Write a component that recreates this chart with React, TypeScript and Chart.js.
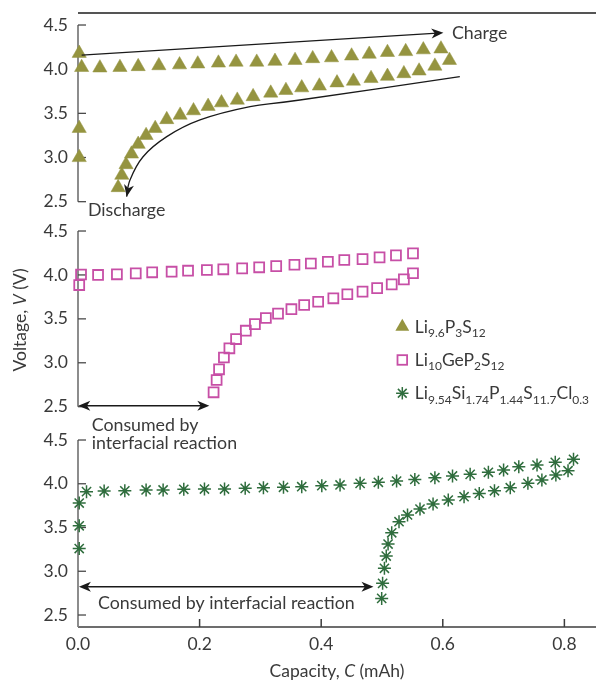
import { useEffect, useRef } from 'react';
import { Chart, registerables } from 'chart.js';

Chart.register(...registerables);

const FONT = 'Lato';
const TEXT = '#3a3a3a';

// ---- Data: capacity C (mAh) and voltage V (V) ----
// Li9.6P3S12 (top panel)
const lpsChargeC = [0.002, 0.002, 0.002, 0.006, 0.036, 0.069, 0.099, 0.133, 0.167, 0.197, 0.231, 0.260, 0.294, 0.324, 0.357, 0.386, 0.417, 0.450, 0.479, 0.509, 0.539, 0.568, 0.597];
const lpsChargeV = [3.00, 3.33, 4.18, 4.02, 4.015, 4.02, 4.03, 4.04, 4.05, 4.06, 4.07, 4.08, 4.08, 4.09, 4.10, 4.12, 4.13, 4.15, 4.17, 4.19, 4.20, 4.22, 4.23];
const lpsDischargeC = [0.611, 0.587, 0.561, 0.536, 0.509, 0.482, 0.453, 0.426, 0.397, 0.368, 0.342, 0.317, 0.288, 0.262, 0.236, 0.214, 0.190, 0.168, 0.146, 0.127, 0.112, 0.099, 0.088, 0.079, 0.072, 0.066];
const lpsDischargeV = [4.10, 4.035, 3.98, 3.95, 3.92, 3.895, 3.865, 3.846, 3.81, 3.79, 3.76, 3.73, 3.69, 3.65, 3.62, 3.58, 3.53, 3.48, 3.43, 3.33, 3.25, 3.15, 3.04, 2.92, 2.80, 2.66];

// Li10GeP2S12 (middle panel)
const lgpsChargeC = [0.002, 0.005, 0.033, 0.064, 0.095, 0.122, 0.154, 0.181, 0.212, 0.239, 0.270, 0.298, 0.326, 0.356, 0.383, 0.411, 0.438, 0.468, 0.496, 0.523, 0.551];
const lgpsChargeV = [3.885, 4.005, 4.0, 4.007, 4.018, 4.03, 4.037, 4.048, 4.056, 4.064, 4.075, 4.087, 4.10, 4.116, 4.13, 4.15, 4.17, 4.18, 4.20, 4.223, 4.246];
const lgpsDischargeC = [0.551, 0.536, 0.516, 0.492, 0.468, 0.443, 0.420, 0.395, 0.372, 0.351, 0.329, 0.309, 0.291, 0.276, 0.260, 0.249, 0.240, 0.232, 0.228, 0.223];
const lgpsDischargeV = [4.019, 3.95, 3.893, 3.85, 3.81, 3.78, 3.734, 3.695, 3.658, 3.61, 3.56, 3.51, 3.44, 3.365, 3.27, 3.165, 3.06, 2.926, 2.804, 2.664];

// Li9.54Si1.74P1.44S11.7Cl0.3 (bottom panel)
const lspsChargeC = [0.002, 0.002, 0.002, 0.014, 0.043, 0.077, 0.112, 0.140, 0.174, 0.208, 0.241, 0.275, 0.305, 0.338, 0.368, 0.401, 0.431, 0.464, 0.494, 0.524, 0.554, 0.587, 0.616, 0.645, 0.675, 0.700, 0.725, 0.755, 0.785, 0.815];
const lspsChargeV = [3.26, 3.52, 3.78, 3.91, 3.917, 3.92, 3.929, 3.929, 3.937, 3.94, 3.94, 3.948, 3.955, 3.96, 3.966, 3.978, 3.986, 4.005, 4.017, 4.031, 4.05, 4.069, 4.089, 4.108, 4.131, 4.157, 4.195, 4.214, 4.245, 4.28];
const lspsDischargeC = [0.806, 0.786, 0.763, 0.740, 0.711, 0.685, 0.660, 0.635, 0.609, 0.584, 0.5625, 0.542, 0.528, 0.516, 0.510, 0.507, 0.504, 0.501, 0.4995];
const lspsDischargeV = [4.149, 4.10, 4.043, 4.005, 3.955, 3.92, 3.89, 3.852, 3.814, 3.769, 3.711, 3.643, 3.566, 3.44, 3.311, 3.174, 3.034, 2.862, 2.69];

const xTicks = [0, 0.2, 0.4, 0.6, 0.8];
const yTicks = [2.5, 3.0, 3.5, 4.0, 4.5];

// legend labels: [text, isSubscript]
const nameLPS: [string, boolean][] = [['Li', false], ['9.6', true], ['P', false], ['3', true], ['S', false], ['12', true]];
const nameLGPS: [string, boolean][] = [['Li', false], ['10', true], ['GeP', false], ['2', true], ['S', false], ['12', true]];
const nameLSPS: [string, boolean][] = [['Li', false], ['9.54', true], ['Si', false], ['1.74', true], ['P', false], ['1.44', true], ['S', false], ['11.7', true], ['Cl', false], ['0.3', true]];

const COL_LPS = '#959440';
const COL_LGPS = '#c74fa6';
const COL_LSPS = '#2f6d3d';

const pts = (c: number[], v: number[]) => c.map((x, i) => ({ x, y: v[i] }));

function line(ctx: CanvasRenderingContext2D, x1: number, y1: number, x2: number, y2: number) {
  ctx.beginPath();
  ctx.moveTo(x1, y1);
  ctx.lineTo(x2, y2);
  ctx.stroke();
}

function arrowHead(ctx: CanvasRenderingContext2D, tx: number, ty: number, ang: number, len = 12, hw = 5) {
  const bx = tx - Math.cos(ang) * len;
  const by = ty - Math.sin(ang) * len;
  const nx = -Math.sin(ang) * hw;
  const ny = Math.cos(ang) * hw;
  const mx = tx - Math.cos(ang) * len * 0.72;
  const my = ty - Math.sin(ang) * len * 0.72;
  ctx.beginPath();
  ctx.moveTo(tx, ty);
  ctx.lineTo(bx + nx, by + ny);
  ctx.lineTo(mx, my);
  ctx.lineTo(bx - nx, by - ny);
  ctx.closePath();
  ctx.fill();
}

function textRuns(ctx: CanvasRenderingContext2D, parts: [string, boolean][], x: number, y: number, size: number, align: 'left' | 'center') {
  let w = 0;
  for (const [t, it] of parts) {
    ctx.font = `${it ? 'italic ' : ''}${size}px ${FONT}`;
    w += ctx.measureText(t).width;
  }
  let cx = align === 'center' ? x - w / 2 : x;
  ctx.textAlign = 'left';
  for (const [t, it] of parts) {
    ctx.font = `${it ? 'italic ' : ''}${size}px ${FONT}`;
    ctx.fillText(t, cx, y);
    cx += ctx.measureText(t).width;
  }
}

function formula(ctx: CanvasRenderingContext2D, parts: [string, boolean][], x: number, y: number) {
  let cx = x;
  ctx.textAlign = 'left';
  ctx.textBaseline = 'alphabetic';
  for (const [t, sub] of parts) {
    ctx.font = `${sub ? 12 : 17.5}px ${FONT}`;
    ctx.fillText(t, cx, sub ? y + 4.5 : y);
    cx += ctx.measureText(t).width;
  }
}

// annotation anchor positions, in data units (C, V) of each panel
const chargeArrow = { from: [0.006, 4.16], to: [0.601, 4.413] };
const dischargeCurve = [[0.628, 3.915], [0.365, 3.651], [0.283, 3.575], [0.2007, 3.425], [0.146, 3.236], [0.107, 3.009], [0.0855, 2.746], [0.08, 2.557]];

const annotations = {
  id: 'annotations',
  beforeDatasetsDraw(chart: any) {
    const { ctx, chartArea: ca, scales } = chart;
    const xs = scales.x;
    ctx.save();
    ctx.lineCap = 'butt';
    // top frame line
    ctx.strokeStyle = '#1c1c1c';
    ctx.lineWidth = 1.3;
    line(ctx, ca.left, ca.top, ca.right, ca.top);
    // x axis
    ctx.strokeStyle = '#3c3c3c';
    ctx.lineWidth = 1.5;
    line(ctx, ca.left, ca.bottom, ca.right, ca.bottom);
    for (const v of xTicks) {
      if (v === 0) continue;
      const px = xs.getPixelForValue(v);
      line(ctx, px, ca.bottom, px, ca.bottom - 8);
    }
    // y axes
    for (const id of ['yTop', 'yMid', 'yBot']) {
      const s = scales[id];
      const y1 = s.getPixelForValue(yTicks[yTicks.length - 1]);
      const y2 = id === 'yBot' ? ca.bottom : s.getPixelForValue(yTicks[0]);
      ctx.strokeStyle = '#808080';
      ctx.lineWidth = 1.8;
      line(ctx, ca.left, y1, ca.left, y2);
      ctx.strokeStyle = '#4a4a4a';
      ctx.lineWidth = 1.3;
      for (const v of yTicks) {
        const py = s.getPixelForValue(v);
        line(ctx, ca.left, py, ca.left + 8, py);
      }
    }
    ctx.restore();
  },
  afterDatasetsDraw(chart: any) {
    const { ctx, chartArea: ca, scales } = chart;
    const xs = scales.x;
    const yT = scales.yTop;
    const yM = scales.yMid;
    const yB = scales.yBot;
    ctx.save();
    ctx.strokeStyle = '#1a1a1a';
    ctx.fillStyle = '#1a1a1a';
    ctx.lineWidth = 1.3;

    // Charge arrow
    const ax1 = xs.getPixelForValue(chargeArrow.from[0]);
    const ay1 = yT.getPixelForValue(chargeArrow.from[1]);
    const ax2 = xs.getPixelForValue(chargeArrow.to[0]);
    const ay2 = yT.getPixelForValue(chargeArrow.to[1]);
    const ang = Math.atan2(ay2 - ay1, ax2 - ax1);
    line(ctx, ax1, ay1, ax2 - Math.cos(ang) * 6, ay2 - Math.sin(ang) * 6);
    arrowHead(ctx, ax2, ay2, ang);

    // Discharge curve (Catmull-Rom)
    const p = dischargeCurve.map(([c, v]) => [xs.getPixelForValue(c), yT.getPixelForValue(v)]);
    ctx.beginPath();
    ctx.moveTo(p[0][0], p[0][1]);
    for (let i = 0; i < p.length - 1; i++) {
      const p0 = p[Math.max(0, i - 1)];
      const p1 = p[i];
      const p2 = p[i + 1];
      const p3 = p[Math.min(p.length - 1, i + 2)];
      const c1x = p1[0] + (p2[0] - p0[0]) / 6;
      const c1y = p1[1] + (p2[1] - p0[1]) / 6;
      const c2x = p2[0] - (p3[0] - p1[0]) / 6;
      const c2y = p2[1] - (p3[1] - p1[1]) / 6;
      ctx.bezierCurveTo(c1x, c1y, c2x, c2y, p2[0], p2[1]);
    }
    ctx.stroke();
    const last = p[p.length - 1];
    const prev = p[p.length - 2];
    arrowHead(ctx, last[0], last[1], Math.atan2(last[1] - prev[1], last[0] - prev[0]));

    // middle double arrow
    const my = yM.getPixelForValue(2.511);
    const mx1 = xs.getPixelForValue(0.0005);
    const mx2 = xs.getPixelForValue(0.216);
    line(ctx, mx1 + 5, my, mx2 - 5, my);
    arrowHead(ctx, mx1, my, Math.PI);
    arrowHead(ctx, mx2, my, 0);

    // bottom double arrow
    const by = yB.getPixelForValue(2.823);
    const bx1 = xs.getPixelForValue(0.0015);
    const bx2 = xs.getPixelForValue(0.486);
    line(ctx, bx1 + 5, by, bx2 - 5, by);
    arrowHead(ctx, bx1, by, Math.PI);
    arrowHead(ctx, bx2, by, 0);

    // texts
    ctx.fillStyle = TEXT;
    ctx.textBaseline = 'middle';
    ctx.textAlign = 'left';
    ctx.font = `17.8px ${FONT}`;
    ctx.fillText('Charge', xs.getPixelForValue(0.615), yT.getPixelForValue(4.41));
    ctx.fillText('Discharge', xs.getPixelForValue(0.0164), yT.getPixelForValue(2.398));
    ctx.fillText('Consumed by', xs.getPixelForValue(0.0225), yM.getPixelForValue(2.292));
    ctx.fillText('interfacial reaction', xs.getPixelForValue(0.0225), yM.getPixelForValue(2.081));
    ctx.fillText('Consumed by interfacial reaction', xs.getPixelForValue(0.0329), yB.getPixelForValue(2.631));

    // legend
    const lx = xs.getPixelForValue(0.5334);
    const tx = xs.getPixelForValue(0.554);
    const l1 = yM.getPixelForValue(3.411);
    const l2 = yM.getPixelForValue(3.032);
    const l3 = yM.getPixelForValue(2.653);
    // triangle
    ctx.fillStyle = COL_LPS;
    ctx.beginPath();
    const r = 8;
    ctx.moveTo(lx, l1 - r);
    ctx.lineTo(lx + r * Math.sin((2 * Math.PI) / 3), l1 + r / 2);
    ctx.lineTo(lx - r * Math.sin((2 * Math.PI) / 3), l1 + r / 2);
    ctx.closePath();
    ctx.fill();
    // square
    ctx.strokeStyle = COL_LGPS;
    ctx.lineWidth = 1.8;
    ctx.strokeRect(lx - 4.8, l2 - 4.8, 9.6, 9.6);
    // asterisk
    ctx.strokeStyle = COL_LSPS;
    ctx.lineWidth = 1.5;
    for (let k = 0; k < 4; k++) {
      const a = (k * Math.PI) / 4;
      line(ctx, lx - Math.cos(a) * 6.2, l3 - Math.sin(a) * 6.2, lx + Math.cos(a) * 6.2, l3 + Math.sin(a) * 6.2);
    }
    ctx.fillStyle = TEXT;
    formula(ctx, nameLPS, tx, l1 + 6);
    formula(ctx, nameLGPS, tx, l2 + 6);
    formula(ctx, nameLSPS, tx, l3 + 6);

    // axis titles
    ctx.textBaseline = 'middle';
    ctx.save();
    ctx.translate(20, (yM.top + yM.bottom) / 2);
    ctx.rotate(-Math.PI / 2);
    textRuns(ctx, [['Voltage, ', false], ['V', true], [' (V)', false]], 0, 0, 17.5, 'center');
    ctx.restore();
    textRuns(ctx, [['Capacity, ', false], ['C', true], [' (mAh)', false]], (ca.left + ca.right) / 2, 671, 17.5, 'center');
    ctx.restore();
  },
};

function yAxis(min: number, max: number, weight: number) {
  return {
    type: 'linear',
    position: 'left',
    stack: 'v',
    stackWeight: 1,
    weight,
    min,
    max,
    afterBuildTicks: (a: any) => {
      a.ticks = yTicks.map((value) => ({ value }));
    },
    afterFit: (s: any) => {
      s.width = 78;
      s.paddingTop = 0;
      s.paddingBottom = 0;
    },
    grid: { display: false, drawTicks: false },
    border: { display: false },
    ticks: {
      padding: 10,
      color: TEXT,
      font: { family: FONT, size: 17.5 },
      callback: (v: any) => Number(v).toFixed(1),
    },
  };
}

export default function App() {
  const ref = useRef<HTMLCanvasElement>(null);
  useEffect(() => {
    const chart = new Chart(ref.current as HTMLCanvasElement, {
      type: 'scatter',
      data: {
        datasets: [
          {
            label: 'Li9.6P3S12',
            data: [...pts(lpsChargeC, lpsChargeV), ...pts(lpsDischargeC, lpsDischargeV)],
            yAxisID: 'yTop',
            pointStyle: 'triangle',
            pointRadius: 8.2,
            backgroundColor: COL_LPS,
            borderColor: COL_LPS,
            borderWidth: 0.5,
            clip: false,
          },
          {
            label: 'Li10GeP2S12',
            data: [...pts(lgpsChargeC, lgpsChargeV), ...pts(lgpsDischargeC, lgpsDischargeV)],
            yAxisID: 'yMid',
            pointStyle: 'rect',
            pointRadius: 7,
            backgroundColor: 'rgba(0,0,0,0)',
            borderColor: COL_LGPS,
            borderWidth: 1.8,
            clip: false,
          },
          {
            label: 'Li9.54Si1.74P1.44S11.7Cl0.3',
            data: [...pts(lspsChargeC, lspsChargeV), ...pts(lspsDischargeC, lspsDischargeV)],
            yAxisID: 'yBot',
            pointStyle: 'star',
            pointRadius: 6.5,
            backgroundColor: COL_LSPS,
            borderColor: COL_LSPS,
            borderWidth: 1.5,
            clip: false,
          },
        ],
      } as any,
      options: {
        responsive: false,
        animation: false,
        events: [],
        layout: { autoPadding: false, padding: { top: 13, left: 0, right: 0, bottom: 0 } },
        plugins: { legend: { display: false }, tooltip: { enabled: false } },
        scales: {
          x: {
            type: 'linear',
            position: 'bottom',
            min: 0,
            max: 0.852,
            afterBuildTicks: (a: any) => {
              a.ticks = xTicks.map((value) => ({ value }));
            },
            afterFit: (s: any) => {
              s.height = 53;
              s.paddingLeft = 0;
              s.paddingRight = 0;
            },
            grid: { display: false, drawTicks: false },
            border: { display: false },
            ticks: {
              padding: 7,
              color: TEXT,
              maxRotation: 0,
              autoSkip: false,
              font: { family: FONT, size: 17.5 },
              callback: (v: any) => Number(v).toFixed(1),
            },
          },
          yTop: yAxis(2.319, 4.636, 3),
          yMid: yAxis(2.322, 4.652, 2),
          yBot: yAxis(2.363, 4.702, 1),
        } as any,
      },
      plugins: [annotations],
    } as any);
    return () => chart.destroy();
  }, []);
  return (
    <div style={{ position: 'absolute', left: 0, top: 0, width: 596, height: 680, background: '#fff' }}>
      <canvas ref={ref} width={596} height={680} style={{ display: 'block', width: 596, height: 680 }} />
    </div>
  );
}
